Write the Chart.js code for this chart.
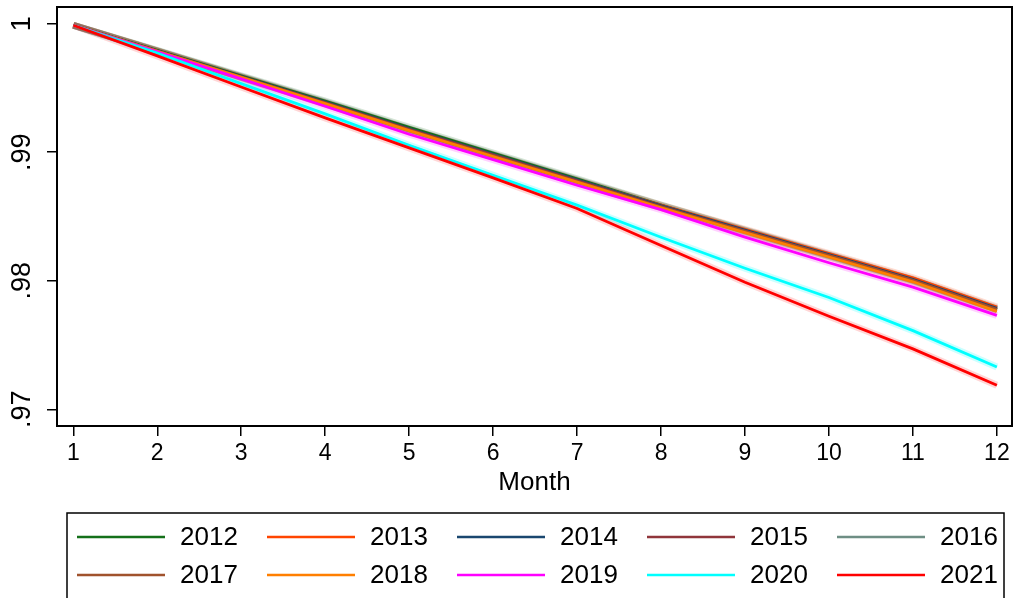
<!DOCTYPE html>
<html>
<head>
<meta charset="utf-8">
<script src="https://cdn.jsdelivr.net/npm/chart.js@4/dist/chart.umd.min.js"></script>
<style>
  html, body { margin: 0; padding: 0; background: #fff; }
  #wrap { width: 1017px; height: 598px; }
</style>
</head>
<body>
<div id="wrap"><canvas id="survChart" width="1017" height="598"></canvas></div>
<script>
const months = [1, 2, 3, 4, 5, 6, 7, 8, 9, 10, 11, 12];
const years = ["2012", "2013", "2014", "2015", "2016", "2017", "2018", "2019", "2020", "2021"];
const colors = ["#14701a", "#ff4500", "#1a476f", "#90353b", "#6e8e84", "#a0522d", "#ff7f00", "#ff00ff", "#00ffff", "#ff0000"];
const halos = ["rgba(20,112,26,0.18)", "rgba(255,69,0,0.18)", "rgba(26,71,111,0.18)", "rgba(144,53,59,0.18)", "rgba(110,142,132,0.18)",
  "rgba(160,82,45,0.18)", "rgba(255,127,0,0.18)", "rgba(255,0,255,0.18)", "rgba(0,255,255,0.2)", "rgba(255,0,0,0.16)"];

const y2012 = [0.99988, 0.99792, 0.99595, 0.99398, 0.99193, 0.98994, 0.98793, 0.98588, 0.98392, 0.98198, 0.98005, 0.97778];
const y2013 = [0.99988, 0.99787, 0.99585, 0.99385, 0.99178, 0.98980, 0.98782, 0.98588, 0.98400, 0.98212, 0.98022, 0.97795];
const y2014 = [0.99988, 0.99789, 0.99589, 0.99390, 0.99183, 0.98984, 0.98785, 0.98584, 0.98394, 0.98204, 0.98012, 0.97785];
const y2015 = [0.99988, 0.99788, 0.99587, 0.99386, 0.99179, 0.98979, 0.98779, 0.98578, 0.98387, 0.98196, 0.98004, 0.97777];
const y2016 = [0.99988, 0.99785, 0.99580, 0.99375, 0.99165, 0.98964, 0.98765, 0.98568, 0.98378, 0.98188, 0.97996, 0.97770];
const y2017 = [0.99988, 0.99786, 0.99583, 0.99380, 0.99172, 0.98972, 0.98772, 0.98574, 0.98385, 0.98195, 0.98003, 0.97775];
const y2018 = [0.99988, 0.99786, 0.99582, 0.99378, 0.99168, 0.98967, 0.98767, 0.98568, 0.98375, 0.98185, 0.97992, 0.97762];
const y2019 = [0.99988, 0.99782, 0.99571, 0.99358, 0.99140, 0.98943, 0.98743, 0.98554, 0.98340, 0.98140, 0.97950, 0.97731];
const y2020 = [0.99988, 0.99772, 0.99534, 0.99298, 0.99054, 0.98821, 0.98588, 0.98339, 0.98097, 0.97870, 0.97612, 0.97329];
const y2021 = [0.99988, 0.99750, 0.99508, 0.99267, 0.99034, 0.98800, 0.98562, 0.98274, 0.97988, 0.97724, 0.97470, 0.97187];
const series = [y2012, y2013, y2014, y2015, y2016, y2017, y2018, y2019, y2020, y2021];

const yTicks = [0.97, 0.98, 0.99, 1];
const yTickLabels = [".97", ".98", ".99", "1"];
const xTickLabels = ["1", "2", "3", "4", "5", "6", "7", "8", "9", "10", "11", "12"];
const xTitle = "Month";

const FONT = "'Liberation Sans', Arial, Helvetica, sans-serif";

const datasets = [];
series.forEach((vals, i) => {
  const pts = months.map((m, j) => ({ x: m, y: vals[j] }));
  datasets.push({
    label: years[i] + " ci",
    data: pts,
    borderColor: halos[i],
    borderWidth: 7,
    pointRadius: 0,
    fill: false,
    order: 50
  });
  datasets.push({
    label: years[i],
    data: pts,
    borderColor: colors[i],
    borderWidth: 2.8,
    pointRadius: 0,
    fill: false,
    order: 10 - i
  });
});

// frame, tick labels (rotated on y) and the legend box
const stataBits = {
  id: "stataBits",
  afterDraw(chart) {
    const ctx = chart.ctx;
    const a = chart.chartArea;
    ctx.save();
    ctx.strokeStyle = "#000";
    ctx.lineWidth = 2;
    ctx.strokeRect(a.left, a.top, a.right - a.left, a.bottom - a.top);

    const ys = chart.scales.y;
    ctx.fillStyle = "#000";
    ctx.font = "27px " + FONT;
    ctx.textAlign = "center";
    ctx.textBaseline = "middle";
    yTicks.forEach((v, i) => {
      const py = ys.getPixelForValue(v);
      ctx.save();
      ctx.translate(23, py);
      ctx.rotate(-Math.PI / 2);
      ctx.fillText(yTickLabels[i], 0, 0);
      ctx.restore();
    });

    const xs = chart.scales.x;
    ctx.font = "23px " + FONT;
    ctx.textBaseline = "alphabetic";
    months.forEach((m, i) => {
      ctx.fillText(xTickLabels[i], xs.getPixelForValue(m), 460);
    });

    ctx.lineWidth = 1.5;
    ctx.strokeRect(67, 513, 937, 100);
    ctx.font = "26px " + FONT;
    ctx.textAlign = "left";
    ctx.textBaseline = "middle";
    years.forEach((yr, i) => {
      const col = i % 5, row = Math.floor(i / 5);
      const x0 = 77 + col * 190;
      const yy = row === 0 ? 537 : 575;
      ctx.strokeStyle = colors[i];
      ctx.lineWidth = 2.5;
      ctx.beginPath();
      ctx.moveTo(x0, yy);
      ctx.lineTo(x0 + 88, yy);
      ctx.stroke();
      ctx.fillStyle = "#000";
      ctx.fillText(yr, x0 + 103, yy + 1);
    });
    ctx.restore();
  }
};

new Chart(document.getElementById("survChart").getContext("2d"), {
  type: "line",
  data: { datasets },
  options: {
    responsive: false,
    animation: false,
    layout: { padding: { top: 7, right: 5, bottom: 98, left: 0 } },
    plugins: { legend: { display: false }, tooltip: { enabled: false } },
    scales: {
      x: {
        type: "linear",
        min: 0.806,
        max: 12.18,
        afterBuildTicks: s => { s.ticks = months.map(m => ({ value: m })); },
        afterFit: s => { s.height = 74; },
        ticks: { display: false },
        grid: { display: true, drawOnChartArea: false, drawTicks: true, tickLength: 10, color: "#000", lineWidth: 1.5 },
        border: { display: false },
        title: { display: true, text: xTitle, color: "#000", font: { size: 26, family: FONT }, padding: { top: 0, bottom: 2 } }
      },
      y: {
        type: "linear",
        min: 0.9687,
        max: 1.0013,
        afterBuildTicks: s => { s.ticks = yTicks.map(v => ({ value: v })); },
        afterFit: s => { s.width = 57; },
        ticks: { display: false },
        grid: { display: true, drawOnChartArea: false, drawTicks: true, tickLength: 10, color: "#000", lineWidth: 1.5 },
        border: { display: false }
      }
    }
  },
  plugins: [stataBits]
});
</script>
</body>
</html>
